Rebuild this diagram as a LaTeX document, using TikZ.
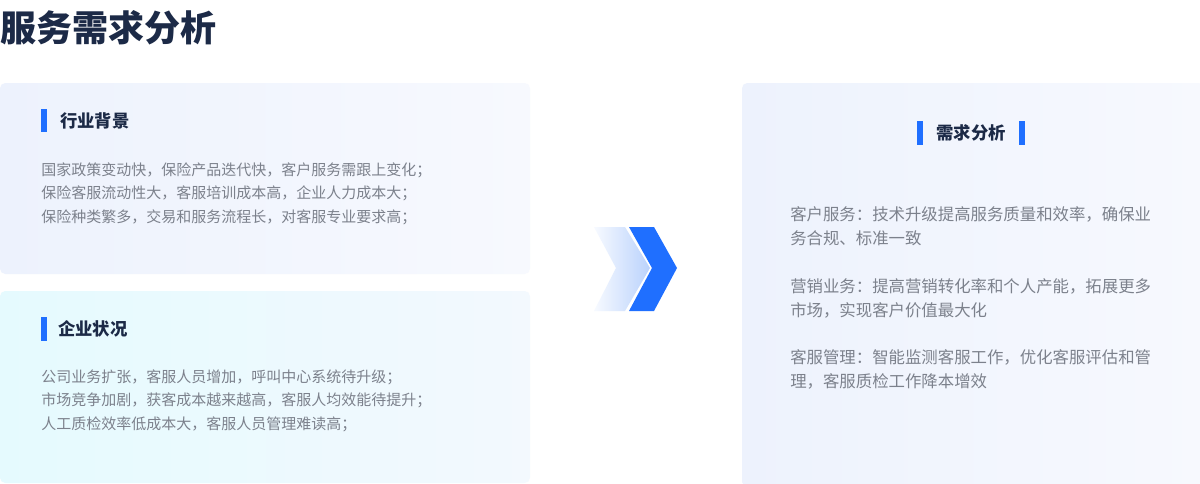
\documentclass[tikz,border=0pt]{standalone}
\usepackage{fontspec}
\setmainfont{Noto Sans CJK SC}
\usepackage{xcolor}
\usetikzlibrary{positioning}
\definecolor{ink}{HTML}{1C2A47}
\definecolor{muted}{HTML}{7C818C}
\definecolor{brand}{HTML}{1F6FFF}
\definecolor{paleblue}{HTML}{EDF2FD}
\definecolor{paleblueend}{HTML}{F7F9FE}
\definecolor{palecyan}{HTML}{E5FAFE}
\definecolor{palecyanend}{HTML}{F3F9FE}
\definecolor{chevfrom}{HTML}{F7FAFF}
\definecolor{chevto}{HTML}{BAD2FC}
\tikzset{
  pagetitle/.style={font=\bfseries\fontsize{27}{32}\selectfont, text=ink, anchor=west, inner sep=0pt},
  heading/.style={font=\bfseries\fontsize{13}{15}\selectfont, text=ink, anchor=west, inner sep=0pt},
  para/.style={font=\fontsize{11.25}{17.6}\selectfont, text=muted, align=left, anchor=north west, inner sep=0pt},
  widepara/.style={para, font=\fontsize{12.3}{18}\selectfont},
  card/.style={left color=#1, right color=#1end, rounded corners=4pt},
  bar/.style={fill=brand},
}

\begin{document}
\begin{tikzpicture}[x=0.75pt,y=-0.75pt]
  \useasboundingbox (0,0) rectangle (1200,483);
  \fill[white] (0,0) rectangle (1200,483);
  \node[pagetitle] (title) at (0,28) {服务需求分析};

  % industry background
  \shade[card=paleblue] (0,83) rectangle (530,274);
  \fill[bar] (41,109) rectangle (47,132);
  \node[heading] (bgHead) at (60,121) {行业背景};
  \node[para] (bgText) at (41,162.5)
    {国家政策变动快，保险产品迭代快，客户服务需跟上变化；\\
     保险客服流动性大，客服培训成本高，企业人力成本大；\\
     保险种类繁多，交易和服务流程长，对客服专业要求高；};

  % company status
  \shade[card=palecyan] (0,291) rectangle (530,483);
  \fill[bar] (41,317) rectangle (47,341);
  \node[heading] (qkHead) at (58,329) {企业状况};
  \node[para] (qkText) at (41,369.5)
    {公司业务扩张，客服人员增加，呼叫中心系统待升级；\\
     市场竞争加剧，获客成本越来越高，客服人均效能待提升；\\
     人工质检效率低成本大，客服人员管理难读高；};

  % chevrons
  \shade[left color=chevfrom, right color=chevto]
    (594,227) -- (625,227) -- (650,268) -- (625,311) -- (594,311) -- (616,268) -- cycle;
  \fill[brand]
    (629,227) -- (654,227) -- (677,268) -- (654,311) -- (629,311) -- (652,268) -- cycle;

  % demand analysis
  \shade[card=paleblue] (742,83) rectangle (1204,487);
  \fill[bar] (917,121) rectangle (923,145);
  \fill[bar] (1019,121) rectangle (1025,145);
  \node[heading,anchor=center] (xqHead) at (971,133) {需求分析};
  \node[widepara] (xqA) at (790,206.5)
    {客户服务：技术升级提高服务质量和效率，确保业\\务合规、标准一致};
  \node[widepara] (xqB) at (790,278.5)
    {营销业务：提高营销转化率和个人产能，拓展更多\\市场，实现客户价值最大化};
  \node[widepara] (xqC) at (790,349.5)
    {客服管理：智能监测客服工作，优化客服评估和管\\理，客服质检工作降本增效};
\end{tikzpicture}
\end{document}
